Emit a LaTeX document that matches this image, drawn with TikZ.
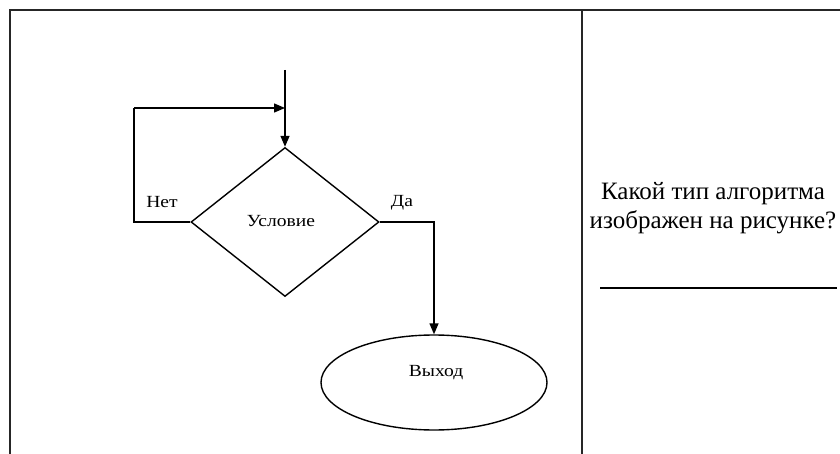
\documentclass[tikz,border=0pt]{standalone}
\usepackage{fontspec}
\setmainfont{Liberation Serif}
\newfontfamily\labelfont[FakeStretch=1.15]{Liberation Serif}
\usetikzlibrary{shapes.geometric,arrows.meta}
\tikzset{
  frame/.style={line width=2pt, draw=black!85},
  flow/.style={line width=1.4pt, draw=black},
  arr/.style={flow, -{Triangle[length=11pt,width=9pt]}},
  decision/.style={diamond, flow, minimum width=188pt, minimum height=149pt, inner sep=0pt, aspect=1.26},
  terminal/.style={ellipse, flow, minimum width=226pt, minimum height=95pt, inner sep=0pt},
  small/.style={font=\labelfont\fontsize{17}{20}\selectfont, inner sep=0pt},
  big/.style={font=\fontsize{25}{29}\selectfont, align=center, inner sep=0pt}
}
\begin{document}
\begin{tikzpicture}[x=1pt, y=-1pt]
  \useasboundingbox (0,0) rectangle (840,454);
  \clip (0,0) rectangle (840,454);
  \fill[white] (0,0) rectangle (840,454);

  % outer frame and column divider
  \draw[frame] (9.5,460) -- (9.5,10) -- (850,10);
  \draw[frame] (581.5,10) -- (581.5,460);

  % flowchart
  \coordinate (start) at (285,70);
  \coordinate (join) at (285,108);
  \coordinate (back) at (134,108);
  \node[decision] (cond) at (285,222) {};
  \node[terminal] (exit) at (434,382.5) {};

  \node[small] (condtext) at (281,221) {Условие};
  \node[small] (exittext) at (436,373) {Выход};
  \node[small] (no) at (162,202) {Нет};
  \node[small] (yes) at (402,203) {Да};

  \draw[arr] (start) -- (cond.north);
  \draw[flow] (cond.west) -| (back);
  \draw[arr] (back) -- (join);
  \draw[arr] (cond.east) -| (exit.north);

  % question on the right
  \node[big] (question) at (713,208) {Какой тип алгоритма\\изображен на рисунке?};
  \coordinate (ansL) at (600,288);
  \coordinate (ansR) at (837,288);
  \draw[line width=1.3pt] (ansL) -- (ansR);
\end{tikzpicture}
\end{document}
